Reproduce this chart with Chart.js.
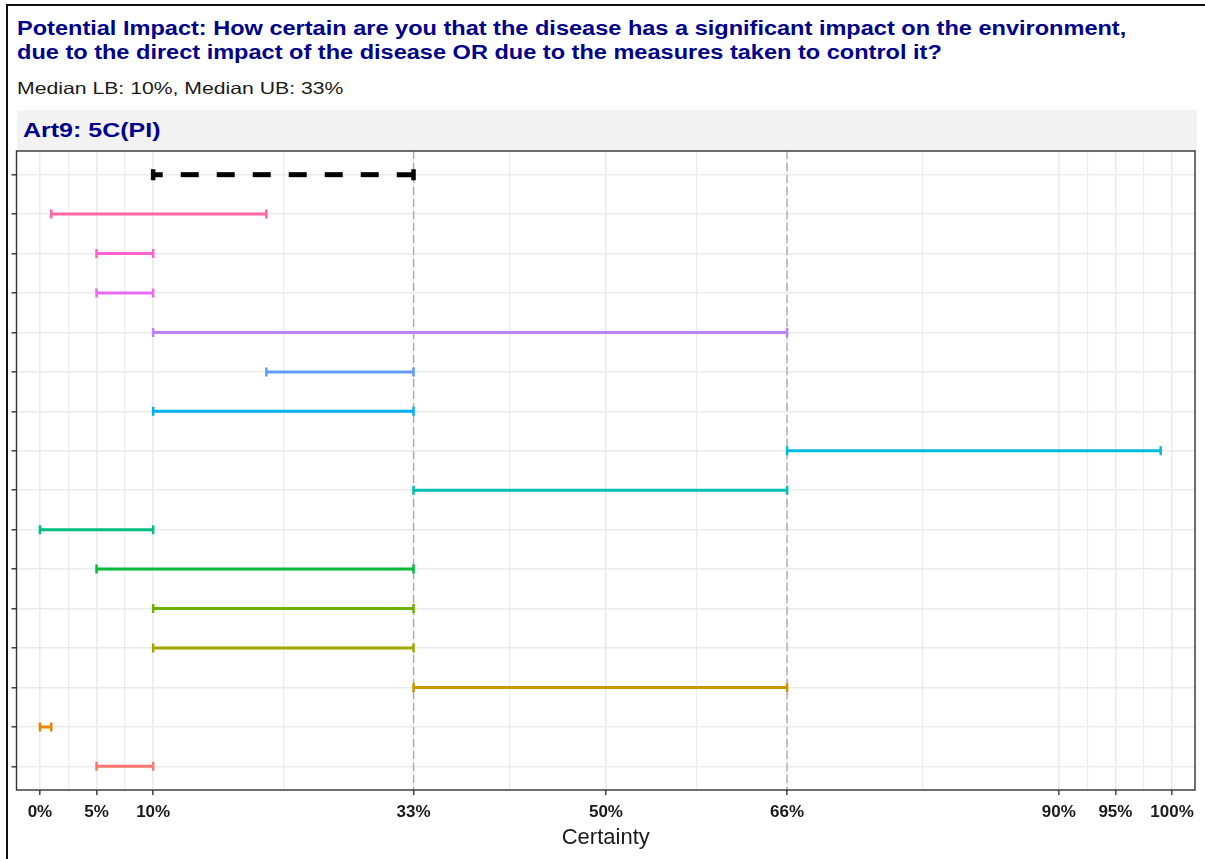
<!DOCTYPE html>
<html>
<head>
<meta charset="utf-8">
<script src="https://cdn.jsdelivr.net/npm/chart.js@4/dist/chart.umd.min.js"></script>
<style>
  html, body { margin: 0; padding: 0; background: #fff; }
  body { width: 1205px; height: 859px; overflow: hidden; position: relative; font-family: "Liberation Sans", Arial, sans-serif; }
  #frame { position: absolute; left: 6px; top: 4px; width: 1300px; height: 900px; border-left: 2px solid #111; border-top: 2px solid #111; }
  #title { position: absolute; left: 17px; top: 17px; color: #00008B; font-weight: bold; font-size: 20px; line-height: 23.5px; white-space: nowrap; transform: scaleX(1.177); transform-origin: 0 0; }
  #subtitle { position: absolute; left: 17px; top: 78px; color: #1a1a1a; font-size: 16.5px; line-height: 20px; white-space: nowrap; transform: scaleX(1.285); transform-origin: 0 0; }
  #strip { position: absolute; left: 16.5px; top: 110px; width: 1180.5px; height: 41px; background: #F2F2F2; }
  #strip span { position: absolute; left: 6px; top: 9px; color: #00008B; font-weight: bold; font-size: 20px; line-height: 23px; white-space: nowrap; transform: scaleX(1.25); transform-origin: 0 0; }
  #chart { position: absolute; left: 0; top: 0; }
</style>
</head>
<body>
<div id="frame"></div>
<div id="title">Potential Impact: How certain are you that the disease has a significant impact on the environment,<br>due to the direct impact of the disease OR due to the measures taken to control it?</div>
<div id="subtitle">Median LB: 10%, Median UB: 33%</div>
<div id="strip"><span>Art9: 5C(PI)</span></div>
<canvas id="chart" width="1205" height="859"></canvas>
<script>
// Respondents, top row first (the first row is the group median)
const respondents = ['Median', 'R15', 'R14', 'R13', 'R12', 'R11', 'R10', 'R9', 'R8', 'R7', 'R6', 'R5', 'R4', 'R3', 'R2', 'R1'];
// Lower and upper bounds of certainty (%)
const lowerBounds = [10, 1, 5, 5, 10, 20, 10, 66, 33, 0, 5, 10, 10, 33, 0, 5];
const upperBounds = [33, 20, 10, 10, 66, 33, 33, 99, 66, 10, 33, 33, 33, 66, 1, 10];
const rowColors = ['#000000', '#FF67A4', '#FD61D1', '#E76BF3', '#B983FF', '#619CFF', '#00B0F6', '#00BCD8',
                   '#00C0AF', '#00BF7D', '#00BA38', '#6BB100', '#A3A500', '#C99800', '#E58700', '#F8766D'];
// Axis breaks and the minor grid between them
const majorBreaks = [0, 5, 10, 33, 50, 66, 90, 95, 100];
const minorBreaks = majorBreaks.slice(1).map((b, i) => (b + majorBreaks[i]) / 2);
// Reference lines for the median bounds of the overall question
const referenceLines = [33, 66];

const yMin = -0.6, yMax = respondents.length - 1 + 0.6;

const datasets = respondents.map((name, i) => {
  const isMedian = i === 0;
  return {
    label: name,
    data: [{ x: lowerBounds[i], y: i }, { x: upperBounds[i], y: i }],
    borderColor: rowColors[i],
    borderWidth: isMedian ? 5 : 3,
    borderDash: isMedian ? [18, 18] : [],
    borderDashOffset: isMedian ? 8.4 : 0,
    pointStyle: 'line',
    pointRotation: 90,
    pointRadius: isMedian ? 5.5 : 4.5,
    pointHoverRadius: isMedian ? 5.5 : 4.5,
    pointBorderWidth: isMedian ? 4.5 : 2.5,
    pointHoverBorderWidth: isMedian ? 4.5 : 2.5,
    pointBorderColor: rowColors[i],
    pointBackgroundColor: rowColors[i],
    order: 0
  };
});

referenceLines.forEach(v => {
  datasets.push({
    label: 'ref ' + v,
    data: [{ x: v, y: yMin }, { x: v, y: yMax }],
    borderColor: '#A8A8A8',
    borderWidth: 1.3,
    borderDash: [8, 4],
    pointRadius: 0,
    pointHoverRadius: 0,
    order: 1
  });
});

const panelBorder = {
  id: 'panelBorder',
  afterDatasetsDraw(chart) {
    const a = chart.chartArea, ctx = chart.ctx;
    ctx.save();
    ctx.strokeStyle = '#333333';
    ctx.lineWidth = 1.4;
    ctx.strokeRect(a.left, a.top, a.right - a.left, a.bottom - a.top);
    ctx.restore();
  }
};

const isMajor = v => majorBreaks.includes(v);

new Chart(document.getElementById('chart'), {
  type: 'line',
  data: { datasets },
  plugins: [panelBorder],
  options: {
    responsive: false,
    animation: false,
    devicePixelRatio: 1,
    events: [],
    layout: { padding: { left: 6.5, right: 8, top: 151, bottom: 0 } },
    plugins: { legend: { display: false }, tooltip: { enabled: false }, title: { display: false } },
    scales: {
      x: {
        type: 'linear',
        min: -2.07,
        max: 102.03,
        afterBuildTicks: scale => {
          scale.ticks = majorBreaks.concat(minorBreaks).sort((a, b) => a - b).map(v => ({ value: v }));
        },
        afterFit: scale => { scale.height = 69; },
        grid: {
          color: '#EBEBEB',
          lineWidth: ctx => (ctx.tick && isMajor(ctx.tick.value)) ? 1.6 : 1.2,
          tickColor: ctx => (ctx.tick && isMajor(ctx.tick.value)) ? '#333333' : 'rgba(0,0,0,0)',
          tickWidth: 1.4,
          tickLength: 5,
          drawTicks: true
        },
        border: { display: false },
        ticks: {
          autoSkip: false,
          maxRotation: 0,
          padding: 7,
          color: '#1a1a1a',
          font: { family: '"Liberation Sans", Arial, sans-serif', size: 17, weight: 'bold' },
          callback: v => isMajor(v) ? v + '%' : ''
        },
        title: {
          display: true,
          text: 'Certainty',
          color: '#1a1a1a',
          font: { family: '"Liberation Sans", Arial, sans-serif', size: 22 },
          padding: { top: 0, bottom: 8 }
        }
      },
      y: {
        type: 'linear',
        reverse: true,
        min: yMin,
        max: yMax,
        afterBuildTicks: scale => {
          scale.ticks = respondents.map((_, i) => ({ value: i }));
        },
        afterFit: scale => { scale.width = 10; },
        grid: {
          color: '#EBEBEB',
          lineWidth: 1.6,
          tickColor: '#333333',
          tickWidth: 1.4,
          tickLength: 5,
          drawTicks: true
        },
        border: { display: false },
        ticks: { display: false }
      }
    }
  }
});
</script>
</body>
</html>
